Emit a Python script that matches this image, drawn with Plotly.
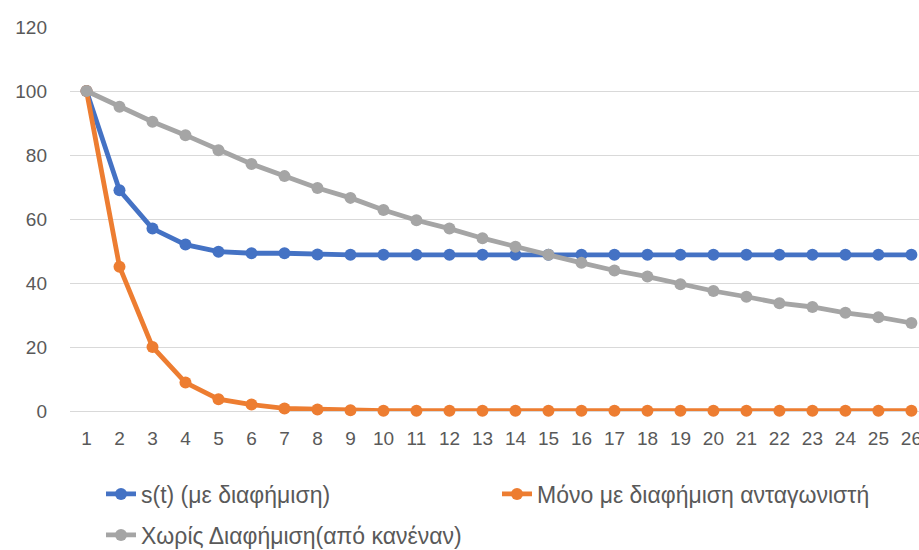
import plotly.graph_objects as go

# Time steps (category axis)
periods = list(range(1, 27))

# Market share with own advertising
s_with_ads = [100, 69, 57, 52, 49.8, 49.3, 49.3, 48.9, 48.8, 48.8, 48.8, 48.8, 48.8, 48.8,
              48.8, 48.8, 48.8, 48.8, 48.8, 48.8, 48.8, 48.8, 48.8, 48.8, 48.8, 48.8]
# Only the competitor advertises
competitor_only = [100, 45.1, 20, 8.9, 3.7, 2.0, 0.8, 0.5, 0.2, 0.1, 0.1, 0.1, 0.1, 0.1,
                   0.1, 0.1, 0.1, 0.1, 0.1, 0.1, 0.1, 0.1, 0.1, 0.1, 0.1, 0.1]
# Nobody advertises
no_ads = [100, 95.1, 90.4, 86.2, 81.5, 77.2, 73.4, 69.7, 66.6, 62.8, 59.6, 57.0, 54.0, 51.3,
          48.8, 46.3, 43.9, 42.0, 39.6, 37.5, 35.7, 33.7, 32.5, 30.7, 29.3, 27.5]

y_ticks = [0, 20, 40, 60, 80, 100, 120]

series = [
    ("s(t) (με διαφήμιση)", s_with_ads, "#4472C4", "legend"),
    ("Μόνο με διαφήμιση ανταγωνιστή", competitor_only, "#ED7D31", "legend"),
    ("Χωρίς Διαφήμιση(από κανέναν)", no_ads, "#A5A5A5", "legend2"),
]

FONT = "Liberation Sans, Arial, sans-serif"
TEXT = "#595959"

fig = go.Figure()
for name, values, color, leg in series:
    fig.add_trace(go.Scatter(
        x=periods, y=values, name=name, mode="lines+markers",
        line=dict(color=color, width=4.8),
        marker=dict(color=color, size=12),
        cliponaxis=False, legend=leg,
    ))

legend_style = dict(
    orientation="h", xanchor="left", yanchor="middle",
    xref="container", yref="container",
    entrywidth=351, entrywidthmode="pixels",
    font=dict(family=FONT, size=23, color=TEXT),
    bgcolor="rgba(0,0,0,0)",
)

fig.update_layout(
    width=919, height=550,
    margin=dict(l=70, r=0, t=27, b=139, autoexpand=False),
    paper_bgcolor="white", plot_bgcolor="white",
    font=dict(family=FONT, color=TEXT, size=19),
    showlegend=True,
    legend=dict(x=101 / 919, y=1 - 494 / 550, **legend_style),
    legend2=dict(x=101 / 919, y=1 - 535 / 550, **legend_style),
)
fig.update_xaxes(
    type="linear", range=[0.5, 26.23],
    tickmode="array", tickvals=periods, ticktext=[str(p) for p in periods],
    showgrid=False, zeroline=False, showline=False,
    ticks="", ticklabelstandoff=14, ticklabeloverflow="allow",
    tickfont=dict(family=FONT, size=19, color=TEXT),
)
fig.update_yaxes(
    range=[0, 120], tickmode="array", tickvals=y_ticks,
    showgrid=True, gridcolor="#D9D9D9", gridwidth=1.3,
    zeroline=True, zerolinecolor="#D9D9D9", zerolinewidth=1.3,
    showline=False, ticks="", ticklabelstandoff=22,
    tickfont=dict(family=FONT, size=19, color=TEXT),
)

fig.write_html("out.html")
